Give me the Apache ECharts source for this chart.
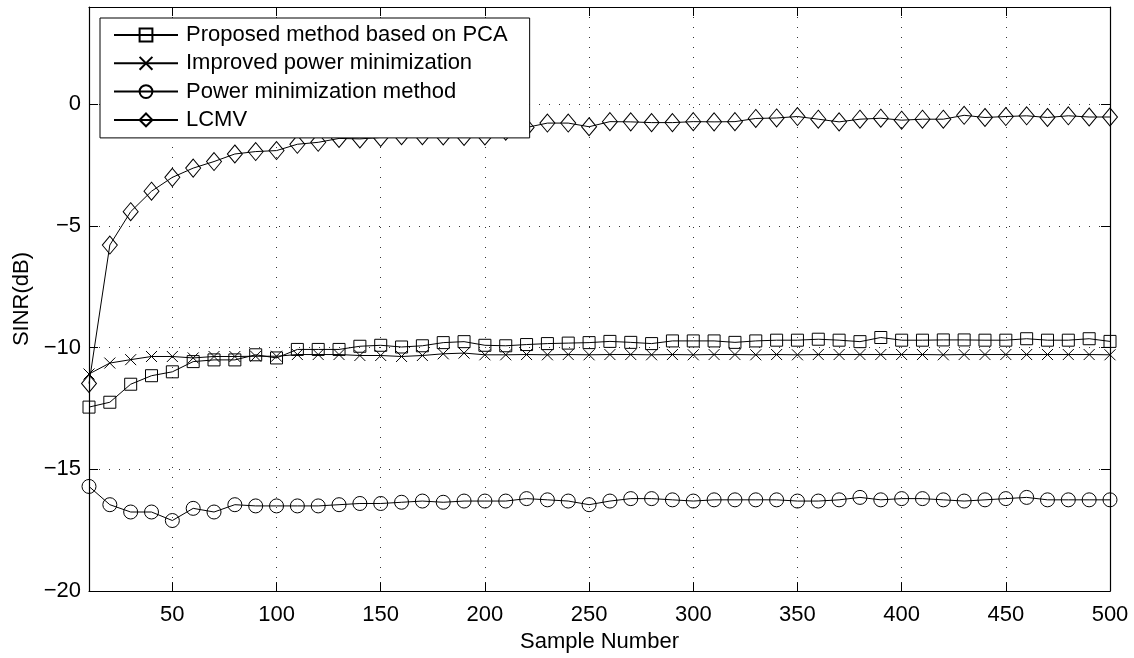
<!DOCTYPE html>
<html>
<head>
<meta charset="utf-8">
<script src="https://cdn.jsdelivr.net/npm/echarts@6/dist/echarts.min.js"></script>
<style>
  html, body { margin: 0; padding: 0; background: #fff; }
  #chart { width: 1134px; height: 658px; }
</style>
</head>
<body>
<div id="chart"></div>
<script>
// Sample numbers 10..500 in steps of 10
const samples = [10,20,30,40,50,60,70,80,90,100,110,120,130,140,150,160,170,180,190,200,
  210,220,230,240,250,260,270,280,290,300,310,320,330,340,350,360,370,380,390,400,
  410,420,430,440,450,460,470,480,490,500];

// SINR (dB) of each beamformer
const proposedPCA = [-12.44,-12.24,-11.5,-11.15,-10.99,-10.57,-10.5,-10.5,-10.29,-10.42,
  -10.07,-10.07,-10.07,-9.94,-9.9,-9.97,-9.92,-9.79,-9.75,-9.9,
  -9.92,-9.87,-9.83,-9.81,-9.79,-9.74,-9.78,-9.83,-9.72,-9.72,
  -9.72,-9.78,-9.72,-9.69,-9.69,-9.65,-9.69,-9.75,-9.58,-9.69,
  -9.69,-9.68,-9.68,-9.69,-9.69,-9.63,-9.69,-9.69,-9.63,-9.74];

const improvedPowerMin = [-11.08,-10.63,-10.49,-10.36,-10.36,-10.42,-10.36,-10.36,-10.35,-10.35,
  -10.28,-10.28,-10.28,-10.32,-10.32,-10.36,-10.32,-10.25,-10.22,-10.29,
  -10.29,-10.28,-10.29,-10.28,-10.29,-10.28,-10.28,-10.29,-10.28,-10.29,
  -10.28,-10.28,-10.29,-10.28,-10.29,-10.28,-10.28,-10.28,-10.28,-10.28,
  -10.28,-10.29,-10.28,-10.28,-10.28,-10.28,-10.28,-10.28,-10.28,-10.29];

const powerMin = [-15.7,-16.45,-16.75,-16.75,-17.1,-16.6,-16.75,-16.45,-16.5,-16.5,
  -16.5,-16.5,-16.45,-16.4,-16.4,-16.35,-16.3,-16.35,-16.3,-16.3,
  -16.3,-16.2,-16.25,-16.3,-16.45,-16.3,-16.2,-16.2,-16.25,-16.3,
  -16.25,-16.25,-16.25,-16.25,-16.3,-16.3,-16.25,-16.15,-16.25,-16.2,
  -16.2,-16.25,-16.3,-16.25,-16.2,-16.15,-16.25,-16.25,-16.25,-16.25];

const lcmv = [-11.47,-5.78,-4.41,-3.57,-3.0,-2.62,-2.35,-2.04,-1.94,-1.9,
  -1.64,-1.56,-1.4,-1.42,-1.36,-1.29,-1.29,-1.3,-1.32,-1.3,
  -1.1,-0.95,-0.77,-0.77,-0.92,-0.71,-0.72,-0.75,-0.75,-0.71,
  -0.72,-0.71,-0.58,-0.56,-0.5,-0.61,-0.72,-0.61,-0.57,-0.65,
  -0.61,-0.61,-0.45,-0.54,-0.5,-0.47,-0.54,-0.47,-0.52,-0.52];

const seriesNames = ['Proposed method based on PCA', 'Improved power minimization',
  'Power minimization method', 'LCMV'];

const xTicks = [50,100,150,200,250,300,350,400,450,500];
const yTicks = [-20,-15,-10,-5,0];

const FONT = "'Liberation Sans', Arial, Helvetica, sans-serif";
const crossPath = 'path://M0,0L10,10M10,0L0,10';

function zip(ys) { return samples.map((x, i) => [x, ys[i]]); }

function lineSeries(name, ys, symbol, size) {
  return {
    name: name,
    type: 'line',
    data: zip(ys),
    symbol: symbol,
    symbolSize: size,
    showAllSymbol: true,
    lineStyle: { color: '#000', width: 1 },
    itemStyle: { color: 'rgba(255,255,255,0)', borderColor: '#000', borderWidth: 1 },
    emphasis: { disabled: true },
    z: 3
  };
}

const chart = echarts.init(document.getElementById('chart'), null, { renderer: 'canvas' });

const boxLine = { onZero: false, lineStyle: { color: '#000', width: 1.2 } };
const tickIn = ticks => ({ inside: true, length: 9, lineStyle: { color: '#000' }, customValues: ticks });
const gridDots = { show: true, lineStyle: { color: '#333', width: 1, type: [1, 9] } };

chart.setOption({
  animation: false,
  backgroundColor: '#fff',
  textStyle: { fontFamily: FONT },
  grid: { left: 89, right: 24, top: 7, bottom: 59, containLabel: false },
  legend: {
    orient: 'vertical',
    left: 100, top: 18,
    backgroundColor: '#fff',
    borderColor: '#000', borderWidth: 1,
    padding: [6, 22, 7, 13],
    itemGap: 6.3,
    itemWidth: 64, itemHeight: 16,
    textStyle: { fontFamily: FONT, fontSize: 22, color: '#000', lineHeight: 22, padding: [0, 0, 0, 3] },
    data: seriesNames,
    selectedMode: false
  },
  xAxis: [{
    type: 'value', min: 10, max: 500, position: 'bottom',
    name: 'Sample Number', nameLocation: 'middle', nameGap: 33,
    nameTextStyle: { fontFamily: FONT, fontSize: 22, color: '#000' },
    axisLine: boxLine,
    axisTick: tickIn(xTicks),
    axisLabel: { fontFamily: FONT, fontSize: 22, color: '#000', margin: 13, customValues: xTicks },
    splitLine: gridDots
  }, {
    type: 'value', min: 10, max: 500, position: 'top',
    axisLine: boxLine,
    axisTick: tickIn(xTicks),
    axisLabel: { show: false },
    splitLine: { show: false }
  }],
  yAxis: [{
    type: 'value', min: -20, max: 4, position: 'left',
    name: 'SINR(dB)', nameLocation: 'middle', nameGap: 55,
    nameTextStyle: { fontFamily: FONT, fontSize: 22, color: '#000' },
    axisLine: boxLine,
    axisTick: tickIn(yTicks),
    axisLabel: { fontFamily: FONT, fontSize: 22, color: '#000', margin: 8, customValues: yTicks,
      formatter: v => (v < 0 ? '\u2212' + Math.abs(v) : String(v)) },
    splitLine: gridDots
  }, {
    type: 'value', min: -20, max: 4, position: 'right',
    axisLine: boxLine,
    axisTick: tickIn(yTicks),
    axisLabel: { show: false },
    splitLine: { show: false }
  }],
  series: [
    lineSeries(seriesNames[0], proposedPCA, 'rect', 12),
    lineSeries(seriesNames[1], improvedPowerMin, crossPath, 11),
    lineSeries(seriesNames[2], powerMin, 'circle', 14),
    lineSeries(seriesNames[3], lcmv, 'diamond', [15, 18])
  ]
});
</script>
</body>
</html>
